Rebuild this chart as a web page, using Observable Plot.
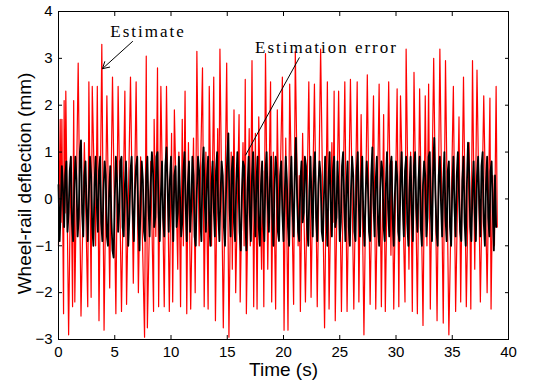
<!DOCTYPE html>
<html>
<head>
<meta charset="utf-8">
<script src="https://cdn.jsdelivr.net/npm/d3@7"></script>
<script src="https://cdn.jsdelivr.net/npm/@observablehq/plot@0.6"></script>
<style>
  html, body { margin: 0; padding: 0; background: white; }
</style>
</head>
<body>
<div id="chart"></div>
<script>
// ---- data ----
const xTicks = [0, 5, 10, 15, 20, 25, 30, 35, 40];
const yTicks = [-3, -2, -1, 0, 1, 2, 3, 4];

// Estimate (red) : time (s) and deflection (mm) at its turning points
const estimateTime = [
  0.0,0.15,0.22,0.3,0.45,0.5,0.58,0.65,0.9,1.1,1.25,1.35,1.45,1.75,2.0,2.3,2.6,2.7,2.9,3.0,
  3.3,3.45,3.6,3.85,4.05,4.3,4.55,4.8,5.1,5.3,5.6,5.9,6.05,6.4,6.65,6.9,7.1,7.3,7.65,7.8,
  7.9,8.2,8.45,8.5,8.65,8.8,8.9,9.1,9.4,9.6,9.85,10.05,10.15,10.3,10.6,10.7,10.85,11.0,11.1,11.25,
  11.4,11.55,11.75,12.0,12.15,12.3,12.5,12.8,12.95,13.1,13.3,13.4,13.6,13.8,13.95,14.15,14.25,14.35,14.65,14.95,
  15.15,15.35,15.45,15.6,15.75,16.05,16.15,16.4,16.5,16.6,16.7,16.95,17.05,17.2,17.35,17.5,17.65,17.8,18.05,18.15,
  18.25,18.4,18.6,18.85,18.95,19.1,19.3,19.45,19.6,19.9,20.05,20.2,20.4,20.55,20.9,21.05,21.3,21.4,21.5,21.7,
  21.95,22.25,22.45,22.75,23.0,23.3,23.65,23.9,24.05,24.3,24.4,24.5,24.6,24.9,25.15,25.45,25.65,25.95,26.25,26.55,
  26.7,26.9,27.15,27.45,27.7,28.0,28.2,28.5,28.7,28.9,29.05,29.35,29.55,29.65,29.8,30.1,30.25,30.4,30.8,30.9,
  31.15,31.3,31.45,31.6,31.9,32.1,32.4,32.6,32.75,32.9,33.05,33.35,33.65,33.9,34.2,34.4,34.7,35.1,35.3,35.6,
  35.75,36.0,36.25,36.5,36.65,36.8,37.0,37.2,37.5,37.8,38.1,38.35,38.45,38.6,38.75,38.9,39.0
];
const estimateValue = [
  -1.0,1.7,-0.5,1.7,-2.45,2.1,-0.3,2.3,-2.9,0.9,-2.3,2.1,-2.2,2.9,-2.5,1.2,-2.3,2.5,-2.1,2.4,
  -1.0,2.4,-2.6,3.3,-2.8,2.2,-1.9,2.6,-2.45,2.4,-2.4,2.3,-2.25,2.6,-1.8,2.5,-2.0,0.9,-2.95,3.05,
  -2.75,0.8,-2.4,1.7,-0.8,2.8,-2.3,2.4,-2.3,2.4,-2.4,1.4,-2.2,1.9,-1.5,1.0,-2.3,1.7,-1.0,2.3,
  -2.45,1.2,-2.35,1.3,-2.0,3.15,-1.0,2.8,-2.3,1.0,-2.35,2.4,-1.0,2.6,-2.6,1.5,-0.5,3.2,-2.75,2.9,
  -2.95,1.0,-1.5,1.9,-2.0,1.8,-2.2,1.2,-1.0,2.55,-2.45,1.5,-1.0,2.95,-2.3,1.4,-2.35,1.75,-1.5,0.6,
  -2.3,3.1,-1.5,2.5,-2.2,1.0,-2.35,1.9,-0.8,2.6,-2.8,1.3,-2.8,2.45,-2.25,3.15,-1.0,0.5,-2.4,1.4,
  -2.2,2.5,-2.1,2.45,-2.3,3.2,-2.75,2.5,-2.35,1.2,-0.5,2.3,-2.6,2.3,-2.4,2.5,-2.4,2.55,-2.35,2.5,
  -2.2,1.8,-2.9,2.65,-2.25,2.2,-2.35,2.45,-2.3,1.8,-2.4,2.5,-1.2,0.8,-2.35,2.35,-2.3,2.2,-2.2,3.2,
  -1.5,1.0,-2.4,2.7,-2.45,2.35,-2.7,2.2,-1.0,2.45,-2.35,3.0,-2.6,3.2,-2.65,2.95,-2.9,2.4,-2.4,1.75,
  -2.2,2.6,-2.3,1.2,-2.35,2.95,-1.5,2.75,-2.2,2.2,-2.0,2.15,-2.35,0.5,-1.0,2.4,-0.6
];

// Estimation error (black): sampled every 0.1 s from 0 to 38.9 s
const errorStep = 0.1;
const errorValue = [
  0.3,-0.9,-0.2,0.7,0.2,-0.6,0.5,0.8,-0.7,-0.3,
  0.6,0.9,-0.5,-0.9,0.2,0.9,0.4,-0.8,-0.4,1.0,
  1.25,-0.3,-0.8,0.5,0.8,-0.2,-0.9,0.1,0.9,0.5,
  -0.6,-1.0,0.3,0.9,-0.1,-0.7,0.6,0.9,-0.5,-0.9,
  0.2,0.8,0.5,-0.8,-1.0,0.1,0.7,-0.4,-1.1,-1.25,
  0.0,0.9,0.4,-0.7,-0.2,0.8,0.9,-0.6,-0.8,0.3,
  0.8,-0.1,-1.0,-0.4,0.6,0.9,-0.3,-0.9,0.2,0.7,
  0.9,-0.5,-1.1,0.0,0.8,0.4,-0.7,-0.9,0.5,0.9,
  -0.2,-0.8,0.3,1.0,0.6,-0.6,-0.4,0.9,1.0,-0.3,
  -0.9,0.1,0.8,-0.4,-0.8,0.7,1.1,0.2,-0.7,0.4,
  0.9,-0.2,-0.9,0.5,0.7,-0.6,-0.3,0.9,0.1,-0.8,
  -0.5,0.6,1.0,-0.1,-0.9,0.3,0.8,-0.7,-0.2,0.9,
  0.5,-0.8,-1.0,0.2,0.9,0.6,-0.4,-0.9,0.7,1.1,
  -0.1,-0.7,0.4,0.9,-0.5,-1.0,0.3,0.8,-0.2,-0.8,
  0.6,1.0,-0.3,-0.9,0.1,0.8,0.5,-0.6,-1.0,0.2,
  0.9,1.4,-0.2,-0.8,0.6,0.9,-0.5,-0.9,0.3,1.0,
  0.4,-0.7,-1.1,0.1,0.8,0.7,-0.4,-1.1,0.2,0.9,
  -0.3,-0.9,0.5,1.0,0.0,-0.8,0.4,0.9,-0.6,-1.0,
  0.3,0.8,-0.5,-0.9,0.6,1.0,-0.1,-0.7,0.4,0.9,
  -0.4,-1.0,0.2,0.9,0.6,-0.7,-0.9,0.5,0.8,-0.3,
  -0.9,0.0,0.9,0.4,-0.6,-1.0,0.3,0.9,-0.2,-0.8,
  0.5,1.3,0.1,-0.7,-0.9,0.4,0.8,-0.5,-0.3,0.9,
  0.7,-0.6,-1.0,0.2,0.9,-0.1,-0.8,0.6,1.0,-0.4,
  -0.9,0.3,0.8,0.5,-0.7,-0.9,0.1,0.9,-0.3,-1.0,
  0.4,1.0,-0.2,-0.8,0.6,0.9,-0.6,-0.4,0.8,0.2,
  -0.9,-0.5,0.7,1.0,-0.1,-0.9,0.3,0.8,-0.6,-1.0,
  0.2,0.9,0.5,-0.7,-0.9,0.6,1.0,-0.2,-0.8,0.4,
  0.9,-0.4,-1.0,0.1,0.8,0.3,-0.7,-0.9,0.5,1.1,
  -0.1,-0.8,0.4,0.9,-0.5,-1.0,0.2,0.8,0.6,-0.6,
  -0.9,0.3,1.0,-0.2,-0.8,0.7,0.9,-0.4,-1.0,0.1,
  0.8,0.5,-0.7,-0.9,0.4,1.0,-0.1,-0.8,0.6,0.9,
  -0.5,-1.0,0.2,0.9,-0.3,-0.9,0.7,1.0,-0.2,-0.7,
  0.4,0.9,-0.6,-1.0,0.3,0.8,0.5,-0.8,-0.4,0.9,
  1.0,-0.3,-0.9,0.6,1.3,0.2,-0.7,-1.0,0.5,0.9,
  -0.1,-0.8,0.3,1.0,-0.4,-0.9,0.6,0.8,-0.6,-1.0,
  0.2,0.9,-0.2,-0.8,0.5,1.0,0.1,-0.7,-0.9,0.4,
  0.9,-0.5,-1.0,0.3,1.2,0.6,-0.6,-0.9,0.2,0.8,
  -0.3,-0.9,0.5,0.9,-0.1,-0.8,0.7,1.0,-0.5,-1.0,
  0.3,0.9,-0.4,-0.8,0.6,0.8,-0.2,-1.1,0.5,-0.6
];

// annotations (data coordinates)
const annotationLabels = ["Estimate", "Estimation error"];
const annotationX = [7.96, 23.82];
const annotationY = [3.57, 3.23];
const estimatePointer = {x1: 6.58, y1: 3.36, x2: 3.91, y2: 2.78};
const errorPointer = {x1: 21.42, y1: 3.02, x2: 16.62, y2: 0.93};

// ---- build tables ----
const estimate = estimateTime.map((t, i) => ({t, v: estimateValue[i]}));
const error = errorValue.map((v, i) => ({t: i * errorStep, v}));
const annotations = annotationLabels.map((label, i) => ({label, x: annotationX[i], y: annotationY[i]}));

const chart = Plot.plot({
  width: 533,
  height: 385,
  marginLeft: 58,
  marginRight: 25,
  marginTop: 11,
  marginBottom: 46,
  style: {fontFamily: "'Liberation Sans', Arial, sans-serif", fontSize: "15px", background: "white", color: "black"},
  x: {domain: [0, 40]},
  y: {domain: [-3, 4]},
  marks: [
    Plot.lineY(estimate, {x: "t", y: "v", stroke: "#ff0000", strokeWidth: 1.2}),
    Plot.lineY(error, {x: "t", y: "v", stroke: "black", strokeWidth: 1.8}),
    Plot.text(annotations, {x: "x", y: "y", text: "label", fontFamily: "'Liberation Serif', 'Times New Roman', serif", fontSize: 17, fill: "black"}),
    Plot.arrow([estimatePointer], {x1: "x1", y1: "y1", x2: "x2", y2: "y2", stroke: "black", strokeWidth: 1, headLength: 11, bend: 0}),
    Plot.link([errorPointer], {x1: "x1", y1: "y1", x2: "x2", y2: "y2", stroke: "black", strokeWidth: 1}),
    Plot.frame({stroke: "black", strokeWidth: 1}),
    Plot.axisX({ticks: xTicks, tickFormat: "d", anchor: "bottom", tickSize: -4, tickPadding: 11, label: null, fontSize: 15}),
    Plot.axisX({ticks: xTicks, anchor: "top", tickSize: -4, tickFormat: () => "", label: null}),
    Plot.axisY({ticks: yTicks, tickFormat: "d", anchor: "left", tickSize: -4, tickPadding: 10, label: null, fontSize: 15}),
    Plot.axisY({ticks: yTicks, anchor: "right", tickSize: -4, tickFormat: () => "", label: null}),
    Plot.text(["Time (s)"], {frameAnchor: "bottom", dy: 36, fontSize: 19, text: d => d, fill: "black"}),
    Plot.text(["Wheel-rail deflection (mm)"], {frameAnchor: "left", textAnchor: "middle", dx: -34, dy: 8, rotate: -90, fontSize: 19, text: d => d, fill: "black"})
  ]
});
// the reference's serif annotations are set wide
d3.select(chart).selectAll("text")
  .filter(function () { return annotationLabels.includes(this.textContent); })
  .attr("letter-spacing", 2);
document.getElementById("chart").appendChild(chart);
</script>
</body>
</html>
